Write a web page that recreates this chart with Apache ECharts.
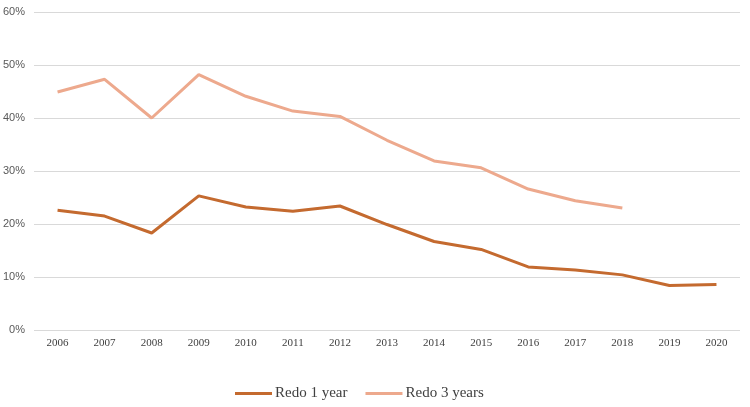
<!DOCTYPE html>
<html>
<head>
<meta charset="utf-8">
<script src="https://cdn.jsdelivr.net/npm/echarts@6/dist/echarts.min.js"></script>
<style>
html, body { margin: 0; padding: 0; background: #fff; }
#chart { width: 750px; height: 407px; }
</style>
</head>
<body>
<div id="chart"></div>
<script>
const years = ['2006', '2007', '2008', '2009', '2010', '2011', '2012', '2013', '2014', '2015', '2016', '2017', '2018', '2019', '2020']
const redo1Year = [22.6, 21.5, 18.3, 25.3, 23.2, 22.4, 23.4, 19.9, 16.7, 15.2, 11.9, 11.3, 10.4, 8.4, 8.6]
const redo3Years = [44.9, 47.3, 40.0, 48.2, 44.1, 41.3, 40.3, 35.8, 31.9, 30.6, 26.6, 24.4, 23.0, null, null]
const yTicks = [0, 10, 20, 30, 40, 50, 60]

const chart = echarts.init(document.getElementById('chart'))
const option = {
    animation: false,
    grid: {
        left: 33,
        right: 10,
        top: 12,
        bottom: 77
    },
    legend: {
        bottom: 1,
        left: 230,
        itemWidth: 37,
        itemHeight: 3,
        itemGap: 18,
        icon: 'rect',
        textStyle: {
            fontFamily: 'Liberation Serif',
            fontSize: 15,
            color: '#404040',
            padding: [0, 0, 0, -2]
        },
        data: ['Redo 1 year', 'Redo 3 years']
    },
    xAxis: {
        type: 'category',
        data: years,
        boundaryGap: true,
        axisLine: { show: false },
        axisTick: { show: false },
        axisLabel: {
            fontFamily: 'Liberation Serif',
            fontSize: 11,
            color: '#404040',
            margin: 8
        }
    },
    yAxis: {
        type: 'value',
        min: yTicks[0],
        max: yTicks[yTicks.length - 1],
        interval: 10,
        axisLine: { show: false },
        axisTick: { show: false },
        splitLine: { lineStyle: { color: '#d9d9d9', width: 1 } },
        axisLabel: {
            fontFamily: 'Liberation Sans',
            fontSize: 11,
            color: '#595959',
            margin: 9,
            formatter: '{value}%'
        }
    },
    series: [
        {
            name: 'Redo 1 year',
            type: 'line',
            data: redo1Year,
            showSymbol: false,
            symbol: 'none',
            color: '#C46A2F',
            lineStyle: { width: 3, color: '#C46A2F' }
        },
        {
            name: 'Redo 3 years',
            type: 'line',
            data: redo3Years,
            showSymbol: false,
            symbol: 'none',
            color: '#EDA98D',
            lineStyle: { width: 3, color: '#EDA98D' }
        }
    ]
}
chart.setOption(option)
</script>
</body>
</html>
